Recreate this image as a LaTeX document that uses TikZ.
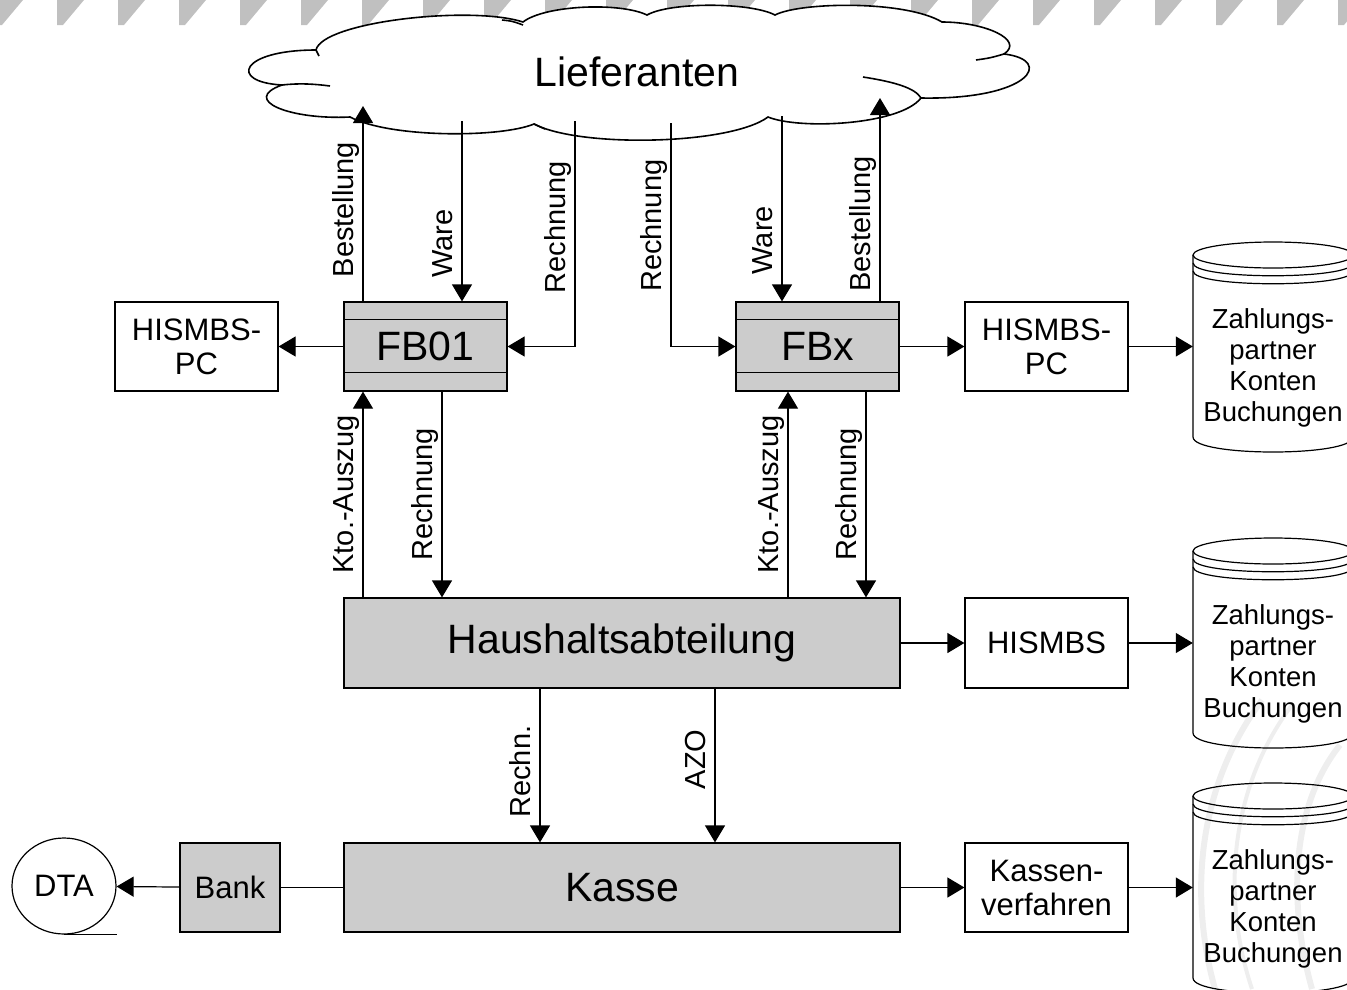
\documentclass[tikz,border=0pt]{standalone}
\usepackage{fontspec}
\setmainfont{Liberation Sans}
\usetikzlibrary{arrows.meta,shapes.geometric}
\definecolor{kastengrau}{RGB}{204,204,204}
\definecolor{streifengrau}{RGB}{192,192,192}
\definecolor{wasserzeichen}{RGB}{238,238,238}
\newcommand{\gross}{\fontsize{41}{48}\selectfont}
\newcommand{\mittel}{\fontsize{31}{34}\selectfont}
\newcommand{\klein}{\fontsize{29}{34}\selectfont}
\newcommand{\dbschrift}{\fontsize{27.5}{31}\selectfont}
\begin{document}
\begin{tikzpicture}[x=1pt,y=-1pt,
		kasten/.style={draw,line width=1.2pt,minimum width=163pt,minimum height=89pt,inner sep=0pt,align=center,font=\mittel},
		grau/.style={kasten,fill=kastengrau},
		pfeil/.style={line width=1.2pt,-{Triangle[length=17pt,width=20pt]}},
		beschr/.style={rotate=90,anchor=south,inner sep=0pt,outer sep=4pt,text depth=6pt,font=\klein},
		dbtext/.style={minimum width=160pt,inner sep=0pt,align=center,font=\dbschrift}]
		\useasboundingbox (0,0) rectangle (1347,989);
		% Hintergrund
		\foreach \k in {0,...,22}
			\fill[streifengrau] (-4+61*\k,0) -- ++(27,0) -- ++(-21,25) -- ++(-6,0) -- cycle;
		\draw[wasserzeichen,line width=6pt] (1262,700) .. controls (1195,790) and (1190,900) .. (1215,989);
		\draw[wasserzeichen,line width=4pt] (1292,705) .. controls (1228,790) and (1222,900) .. (1252,989);
		\draw[wasserzeichen,line width=6pt] (1340,745) .. controls (1292,805) and (1287,900) .. (1312,989);
		% Wolke
		\draw[line width=1.6pt,fill=white] (316,50) .. controls (322,22) and (470,5) .. (523,22)
			.. controls (545,5) and (620,2) .. (647,15)
			.. controls (670,2) and (750,2) .. (775,15)
			.. controls (800,2) and (905,0) .. (942,22)
			.. controls (985,22) and (1025,40) .. (1004,54)
			.. controls (1055,60) and (1030,100) .. (921,98)
			.. controls (900,125) and (800,130) .. (768,117)
			.. controls (730,145) and (580,148) .. (534,124)
			.. controls (500,138) and (390,138) .. (350,117)
			.. controls (290,120) and (240,100) .. (282,85)
			.. controls (228,82) and (240,50) .. (316,50) -- cycle;
		\draw[line width=1.6pt] (282,85) .. controls (300,83) and (315,84) .. (330,86);
		\draw[line width=1.6pt] (863,77) .. controls (895,82) and (915,88) .. (921,98);
		\draw[line width=1.6pt] (976,60) .. controls (990,58) .. (1004,54);
		\draw[line width=1.6pt] (502,20) .. controls (512,21) .. (523,25);
		\draw[line width=1.6pt] (316,50) -- (319,56);
		\draw[line width=1.6pt] (534,124) -- (545,129);
		\node (lief) at (637,72) {\gross Lieferanten};
		% Kaesten
		\node[grau] (fbeins) at (425.5,346.5) {\gross FB01};
		\node[grau] (fbx) at (817.5,346.5) {\gross FBx};
		\foreach \b in {fbeins,fbx}{
			\draw[line width=1.2pt] ([yshift=-18pt]\b.north west) -- ([yshift=-18pt]\b.north east);
			\draw[line width=1.2pt] ([yshift=19pt]\b.south west) -- ([yshift=19pt]\b.south east);
		}
		\node[kasten] (pclinks) at (196.5,346.5) {HISMBS-\\PC};
		\node[kasten] (pcrechts) at (1046.5,346.5) {HISMBS-\\PC};
		\node[grau,minimum width=556pt,minimum height=90pt] (haushalt) at (622,643) {\gross Haushaltsabteilung};
		\node[kasten,minimum height=90pt] (hismbs) at (1046.5,643) {HISMBS};
		\node[grau,minimum width=556pt] (kasse) at (622,887.5) {\gross Kasse};
		\node[kasten] (kverf) at (1046.5,887.5) {Kassen-\\verfahren};
		\node[grau,minimum width=100pt] (bank) at (230,887.5) {Bank};
		\node[draw,ellipse,line width=1.2pt,minimum width=104pt,minimum height=96pt,inner sep=0pt,font=\mittel] (dta) at (64,886) {DTA};
		% Datenbanken
		\foreach \t/\n in {242/1,538/2,783/3}{
			\draw[line width=1.2pt] (1273,\t+13) ellipse [x radius=80,y radius=13];
			\draw[line width=1.2pt] (1193,\t+21) .. controls (1193,\t+38) and (1353,\t+38) .. (1353,\t+21);
			\draw[line width=1.2pt] (1193,\t+29) .. controls (1193,\t+46) and (1353,\t+46) .. (1353,\t+29);
			\draw[line width=1.2pt] (1193,\t+13) -- (1193,\t+195) .. controls (1193,\t+215) and (1353,\t+215) .. (1353,\t+195) -- (1353,\t+13);
			\node[dbtext] (db\n) at (1273,\t+126) {Zahlungs-\\partner\\Konten\\Buchungen};
		}
		% Anschluesse an der Wolke
		\coordinate (best1) at (363,106);
		\coordinate (ware1) at (462,121);
		\coordinate (rech1) at (575,121);
		\coordinate (rech2) at (671,123);
		\coordinate (ware2) at (782,116);
		\coordinate (best2) at (880,98);
		\coordinate (kto1) at (363,0);
		\coordinate (rech3) at (442,0);
		\coordinate (kto2) at (788,0);
		\coordinate (rech4) at (866,0);
		\coordinate (rechn) at (540,0);
		\coordinate (azo) at (715,0);
		% Pfeile oben
		\draw[pfeil] (best1 |- fbeins.north) -- node[beschr,pos=.47]{Bestellung} (best1);
		\draw[pfeil] (ware1) -- node[beschr,pos=.68]{Ware} (ware1 |- fbeins.north);
		\draw[pfeil] (rech1) -- node[beschr,pos=.47]{Rechnung} (rech1 |- fbeins.east) -- (fbeins.east);
		\draw[pfeil] (rech2) -- node[beschr,pos=.46]{Rechnung} (rech2 |- fbx.west) -- (fbx.west);
		\draw[pfeil] (ware2) -- node[beschr,pos=.67]{Ware} (ware2 |- fbx.north);
		\draw[pfeil] (best2 |- fbx.north) -- node[beschr,pos=.38]{Bestellung} (best2);
		% Pfeile Mitte
		\draw[pfeil] (kto1 |- haushalt.north) -- node[beschr,midway]{Kto.-Auszug} (kto1 |- fbeins.south);
		\draw[pfeil] (rech3 |- fbeins.south) -- node[beschr,midway]{Rechnung} (rech3 |- haushalt.north);
		\draw[pfeil] (kto2 |- haushalt.north) -- node[beschr,midway]{Kto.-Auszug} (kto2 |- fbx.south);
		\draw[pfeil] (rech4 |- fbx.south) -- node[beschr,midway]{Rechnung} (rech4 |- haushalt.north);
		\draw[pfeil] (rechn |- haushalt.south) -- node[beschr,pos=.54]{Rechn.} (rechn |- kasse.north);
		\draw[pfeil] (azo |- haushalt.south) -- node[beschr,pos=.46]{AZO} (azo |- kasse.north);
		% Pfeile waagrecht
		\draw[pfeil] (fbeins) -- (pclinks);
		\draw[pfeil] (fbx) -- (pcrechts);
		\draw[pfeil] (pcrechts) -- (pcrechts -| db1.west);
		\draw[pfeil] (haushalt) -- (hismbs);
		\draw[pfeil] (hismbs) -- (hismbs -| db2.west);
		\draw[pfeil] (kasse) -- (kverf);
		\draw[pfeil] (kverf) -- (kverf -| db3.west);
		\draw[line width=1.2pt] (kasse) -- (bank);
		\draw[pfeil] (bank) -- (dta);
		\draw[line width=1.2pt] (dta.south) -- (dta.south -| dta.east);
\end{tikzpicture}
\end{document}
